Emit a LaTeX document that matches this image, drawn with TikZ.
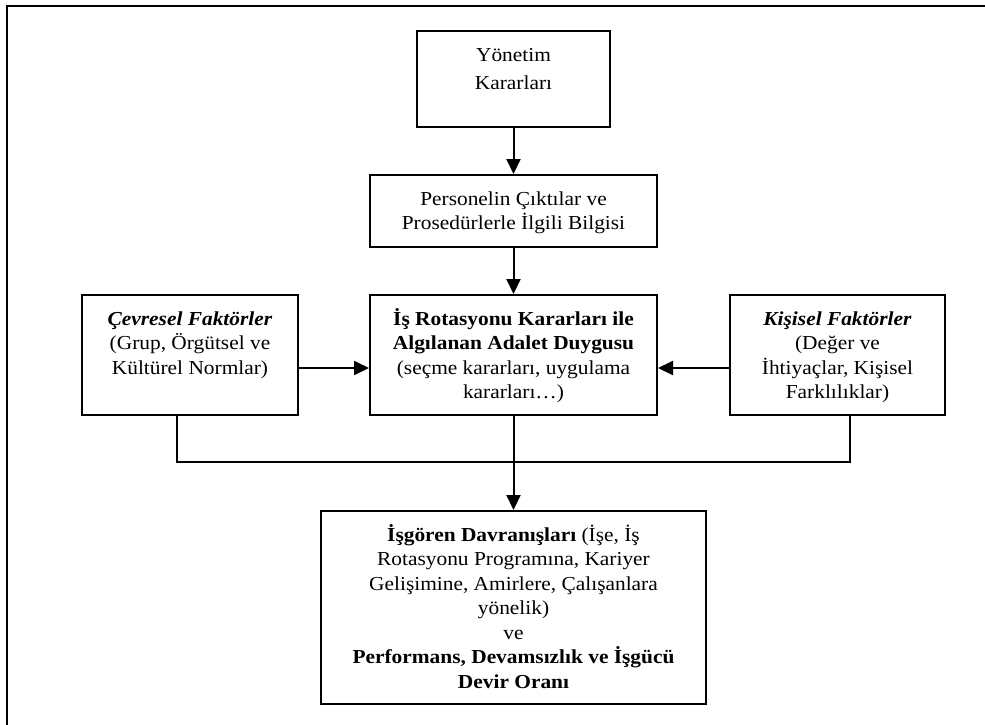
\documentclass[tikz,border=0pt]{standalone}
\usepackage{fontspec}
\setmainfont{Liberation Serif}[FakeStretch=1.08]
\usetikzlibrary{arrows.meta}

% box text: fixed-size parbox, lines set from the top
\newcommand\boxtext[3]{\parbox[c][#2][t]{#1}{\centering\fontsize{9.9pt}{12.25pt}\selectfont\rule{0pt}{15pt}#3}}

\tikzset{
  flowbox/.style={draw, rectangle, line width=1pt, inner sep=0pt, anchor=north west},
  flowarrow/.style={line width=1pt, -{Triangle[length=7.5pt,width=7pt]}},
  flowline/.style={line width=1pt},
  frameline/.style={line width=1.3pt},
}

\begin{document}
\begin{tikzpicture}[x=0.5pt, y=-0.5pt]
  \useasboundingbox (0,0) rectangle (985,724);

  % outer frame
  \begin{scope}
    \clip (0,0) rectangle (985,724);
    \draw[frameline] (7,6) rectangle (1000,740);
  \end{scope}

  % boxes
  \node[flowbox] (yon) at (416,30)
    {\boxtext{96.5pt}{48pt}{Yönetim\\[1.75pt]Kararları}};
  \node[flowbox] (per) at (369,174)
    {\boxtext{143.5pt}{36pt}{Personelin Çıktılar ve\\Prosedürlerle İlgili Bilgisi}};
  \node[flowbox] (cev) at (81,294)
    {\boxtext{108pt}{60pt}{\textbf{\textit{Çevresel Faktörler}}\\(Grup, Örgütsel ve\\Kültürel Normlar)}};
  \node[flowbox] (cen) at (369,294)
    {\boxtext{143.5pt}{60pt}{\textbf{İş Rotasyonu Kararları ile}\\\textbf{Algılanan Adalet Duygusu}\\(seçme kararları, uygulama\\kararları…)}};
  \node[flowbox] (kis) at (729,294)
    {\boxtext{107.5pt}{60pt}{\textbf{\textit{Kişisel Faktörler}}\\(Değer ve\\İhtiyaçlar, Kişisel\\Farklılıklar)}};
  \node[flowbox] (bot) at (320,510)
    {\boxtext{192.5pt}{96.5pt}{\textbf{İşgören Davranışları} (İşe, İş\\Rotasyonu Programına, Kariyer\\Gelişimine, Amirlere, Çalışanlara\\yönelik)\\ve\\\textbf{Performans, Devamsızlık ve İşgücü}\\\textbf{Devir Oranı}}};

  % junction of the collecting line
  \coordinate (j) at (512.5,462);

  % connectors
  \draw[flowarrow] (yon.south) -- (per.north);
  \draw[flowarrow] (per.south) -- (cen.north);
  \draw[flowarrow] ([yshift=-6.5pt]cev.east) -- ([yshift=-6.5pt]cen.west);
  \draw[flowarrow] ([yshift=-6.5pt]kis.west) -- ([yshift=-6.5pt]cen.east);
  \draw[flowline] ([xshift=-6.5pt]cev.south) |- (j) -| ([xshift=6.25pt]kis.south);
  \draw[flowarrow] (cen.south) -- (bot.north);
\end{tikzpicture}
\end{document}
